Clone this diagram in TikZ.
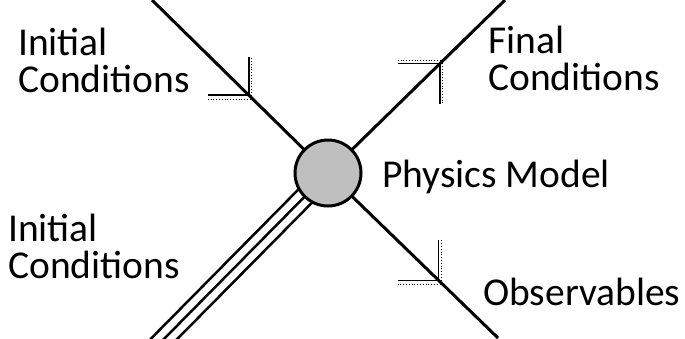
\documentclass[tikz,border=0pt]{standalone}
\usepackage{fontspec}
\setmainfont{Carlito}
\usetikzlibrary{backgrounds}

\begin{document}
\begin{tikzpicture}[x=1pt,y=-1pt,
  leg/.style={line width=3pt},
  cable/.style={line width=2.5pt},
  model/.style={circle, draw, line width=3pt, fill=black!25,
    minimum size=66pt, inner sep=0pt},
  lbl/.style={anchor=base west, inner sep=0pt,
    font=\fontsize{39.5}{37}\selectfont, align=left},
  barb/.style={line width=1.4pt},
  barbdots/.style={line width=1.2pt, dash pattern=on 1pt off 1.8pt}
]
\useasboundingbox (0,0) rectangle (685,338);

% vertex
\node[model] (phys) at (328,173) {};

% free ends
\coordinate (inA) at (152,0);
\coordinate (outF) at (505,0);
\coordinate (outO) at (498,338);
\coordinate (inB) at (157,346);

% legs
\begin{scope}[on background layer]
  \draw[leg] (inA) -- (phys.center) coordinate[pos=0.55] (a1);
  \draw[leg] (phys.center) -- (outF) coordinate[pos=0.632] (a2);
  \draw[leg] (phys.center) -- (outO) coordinate[pos=0.65] (a3);
  \draw[cable] (inB) -- (phys.center);
  \draw[cable] ([xshift=-6.7pt,yshift=6.7pt]inB) -- ([xshift=-6.7pt,yshift=6.7pt]phys.center);
  \draw[cable] ([xshift=6.7pt,yshift=-6.7pt]inB) -- ([xshift=6.7pt,yshift=-6.7pt]phys.center);
\end{scope}

% half arrows
\draw[barb] ([xshift=-41pt]a1) -- (a1) -- ([yshift=38pt]a1);
\draw[barbdots] ([xshift=-41pt,yshift=-4pt]a1) -- ([xshift=3pt,yshift=-4pt]a1)
  -- ([xshift=3pt,yshift=38pt]a1);
\draw[barb] ([xshift=-42pt]a2) -- (a2) -- ([yshift=-40pt]a2);
\draw[barbdots] ([xshift=-42pt,yshift=3pt]a2) -- ([xshift=3pt,yshift=3pt]a2)
  -- ([xshift=3pt,yshift=-40pt]a2);
\draw[barb] ([xshift=-41pt]a3) -- (a3) -- ([yshift=40pt]a3);
\draw[barbdots] ([xshift=-41pt,yshift=-4pt]a3) -- ([xshift=3pt,yshift=-4pt]a3)
  -- ([xshift=3pt,yshift=40pt]a3);

% labels (base = last line)
\node[lbl] (initA) at (18,92) {Initial\\Conditions};
\node[lbl] (final) at (488,90) {Final\\Conditions};
\node[lbl] (model) at (382,187) {Physics Model};
\node[lbl] (initB) at (8,278) {Initial\\Conditions};
\node[lbl] (obs) at (483,305) {Observables};

\end{tikzpicture}
\end{document}
